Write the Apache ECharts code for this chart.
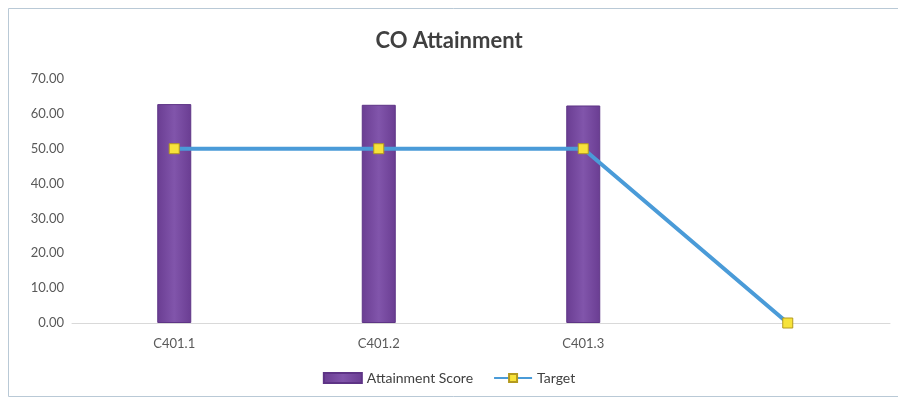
<!DOCTYPE html>
<html>
<head>
<meta charset="utf-8">
<script src="https://cdn.jsdelivr.net/npm/echarts@6/dist/echarts.min.js"></script>
<style>
    html, body { margin: 0; padding: 0; background: #fff; }
    #chart { width: 898px; height: 408px; }
</style>
</head>
<body>
<div id="chart"></div>
<script>
// categories (last one has no label in the original)
const categories = ['C401.1', 'C401.2', 'C401.3', ''];
const attainmentScore = [62.8, 62.6, 62.4, null];
const target = [50, 50, 50, 0];

const chart = echarts.init(document.getElementById('chart'));
chart.setOption({
    animation: false,
    textStyle: { fontFamily: 'Lato, "Open Sans", sans-serif' },
    graphic: [{
        type: 'rect',
        shape: { x: 8.5, y: 8.5, width: 900, height: 388 },
        style: { fill: 'none', stroke: '#b9c9d6', lineWidth: 1 }
    }],
    title: {
        text: 'CO Attainment',
        left: 'center',
        top: 25,
        textStyle: { fontSize: 22, fontWeight: 'bold', color: '#404040' }
    },
    legend: {
        bottom: 18,
        left: 'center',
        itemGap: 20,
        itemWidth: 38,
        itemHeight: 10,
        textStyle: { fontSize: 14, color: '#404040' },
        data: [
            { name: 'Attainment Score', icon: 'rect' },
            { name: 'Target' }
        ]
    },
    grid: { left: 72, right: 8, top: 79, bottom: 85 },
    xAxis: {
        type: 'category',
        data: categories,
        axisLine: { lineStyle: { color: '#d9d9d9' } },
        axisTick: { show: false },
        axisLabel: { color: '#595959', fontSize: 13, margin: 14 }
    },
    yAxis: {
        type: 'value',
        min: 0,
        max: 70,
        interval: 10,
        splitLine: { show: false },
        axisLabel: {
            color: '#595959',
            fontSize: 13,
            margin: 8,
            formatter: v => v.toFixed(2)
        }
    },
    series: [
        {
            name: 'Attainment Score',
            type: 'bar',
            barWidth: 34,
            data: attainmentScore,
            itemStyle: {
                color: new echarts.graphic.LinearGradient(0, 0, 1, 0, [
                    { offset: 0, color: '#6a3d92' },
                    { offset: 0.5, color: '#8155ab' },
                    { offset: 1, color: '#6a3d92' }
                ]),
                borderColor: '#5e3486',
                borderWidth: 1
            }
        },
        {
            name: 'Target',
            type: 'line',
            data: target,
            symbol: 'rect',
            symbolSize: 10,
            lineStyle: { color: '#4a9bd8', width: 4 },
            itemStyle: { color: '#f7e33a', borderColor: '#b49a1e', borderWidth: 1 }
        }
    ]
});
</script>
</body>
</html>
